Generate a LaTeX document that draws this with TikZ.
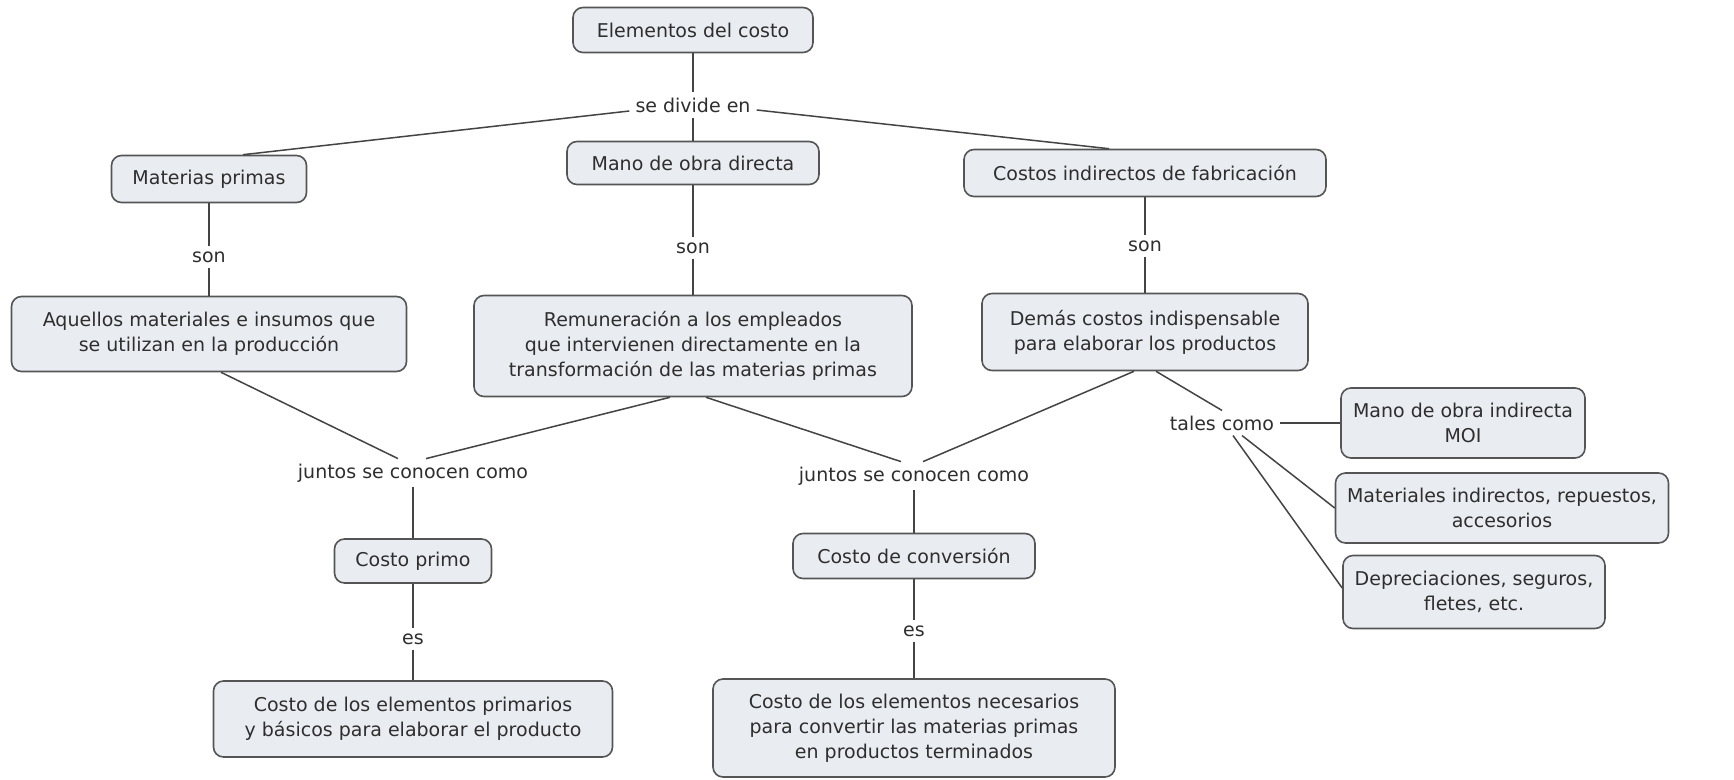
\documentclass[tikz,border=0pt]{standalone}
\usepackage{fontspec}
\setmainfont{DejaVu Sans}
\usetikzlibrary{calc}
\definecolor{boxfill}{HTML}{E9EDF1}
\definecolor{boxline}{HTML}{555555}
\definecolor{txt}{HTML}{2E2E2E}
\definecolor{conn}{HTML}{444444}
\tikzset{
  concept/.style={draw=boxline, line width=1.6pt, fill=boxfill, rounded corners=10pt,
    align=center, text=txt, inner sep=4pt, font=\fontsize{19}{25}\selectfont},
  linkword/.style={align=center, text=txt, inner xsep=6pt, inner ysep=5pt, font=\fontsize{19}{25}\selectfont},
  link/.style={draw=conn, line width=1.5pt}
}
\begin{document}
\begin{tikzpicture}[x=1pt,y=-1pt]
\useasboundingbox (0,0) rectangle (1734,779);
\fill[white] (0,0) rectangle (1734,779);
% concepts
\node[concept, minimum width=240pt, minimum height=45pt] (el) at (693,30) {Elementos del costo};
\node[concept, minimum width=252pt, minimum height=43pt] (mo) at (693,163) {Mano de obra directa};
\node[concept, minimum width=195pt, minimum height=47pt] (mp) at (209,179) {Materias primas};
\node[concept, minimum width=362pt, minimum height=47pt] (cif) at (1145,173) {Costos indirectos de fabricación};
\node[concept, minimum width=395pt, minimum height=75pt] (aq) at (209,334) {Aquellos materiales e insumos que\\se utilizan en la producción};
\node[concept, minimum width=438pt, minimum height=101pt] (rem) at (693,346) {Remuneración a los empleados\\que intervienen directamente en la\\transformación de las materias primas};
\node[concept, minimum width=326pt, minimum height=77pt] (dem) at (1145,332) {Demás costos indispensable\\para elaborar los productos};
\node[concept, minimum width=244pt, minimum height=70pt] (moi) at (1463,423) {Mano de obra indirecta\\MOI};
\node[concept, minimum width=333pt, minimum height=70pt] (mat) at (1502,508) {Materiales indirectos, repuestos,\\accesorios};
\node[concept, minimum width=262pt, minimum height=73pt] (dep) at (1474,592) {Depreciaciones, seguros,\\fletes, etc.};
\node[concept, minimum width=157pt, minimum height=44pt] (cp) at (413,561) {Costo primo};
\node[concept, minimum width=242pt, minimum height=45pt] (cc) at (914,556) {Costo de conversión};
\node[concept, minimum width=399pt, minimum height=76pt] (cpe) at (413,719) {Costo de los elementos primarios\\y básicos para elaborar el producto};
\node[concept, minimum width=402pt, minimum height=98pt] (cce) at (914,728) {Costo de los elementos necesarios\\para convertir las materias primas\\en productos terminados};
% linking words
\node[linkword] (sdiv) at (693,105) {se divide en};
\node[linkword] (son1) at (209,257) {son};
\node[linkword] (son2) at (693,248) {son};
\node[linkword] (son3) at (1145,246) {son};
\node[linkword] (jl) at (413,473) {juntos se conocen como};
\node[linkword] (jr) at (914,476) {juntos se conocen como};
\node[linkword] (tc) at (1222,423) {tales como};
\node[linkword] (es1) at (413,639) {es};
\node[linkword] (es2) at (914,631) {es};
% connectors
\draw[link] (el.south) -- (sdiv.north);
\draw[link] (sdiv.south) -- (mo.north);
\draw[link] ([yshift=-6pt]sdiv.west) -- ([xshift=34pt]mp.north);
\draw[link] ([yshift=-5pt]sdiv.east) -- ([xshift=-36pt]cif.north);
\draw[link] (mp.south) -- (son1.north);
\draw[link] (son1.south) -- (aq.north);
\draw[link] (mo.south) -- (son2.north);
\draw[link] (son2.south) -- (rem.north);
\draw[link] (cif.south) -- (son3.north);
\draw[link] (son3.south) -- (dem.north);
\draw[link] ([xshift=12pt]aq.south) -- ([xshift=-15pt]jl.north);
\draw[link] ([xshift=-23pt]rem.south) -- ([xshift=13pt]jl.north);
\draw[link] ([xshift=13pt]rem.south) -- ([xshift=-13pt]jr.north);
\draw[link] ([xshift=-11pt]dem.south) -- ([xshift=9pt]jr.north);
\draw[link] ([xshift=11pt]dem.south) -- (tc.north);
\draw[link] (tc.east) -- (moi.west);
\draw[link] ([xshift=20pt]tc.south) -- (mat.west);
\draw[link] ([xshift=11pt]tc.south) -- ([yshift=4pt]dep.west);
\draw[link] (jl.south) -- (cp.north);
\draw[link] (cp.south) -- (es1.north);
\draw[link] (es1.south) -- (cpe.north);
\draw[link] (jr.south) -- (cc.north);
\draw[link] (cc.south) -- (es2.north);
\draw[link] (es2.south) -- (cce.north);
\end{tikzpicture}
\end{document}
